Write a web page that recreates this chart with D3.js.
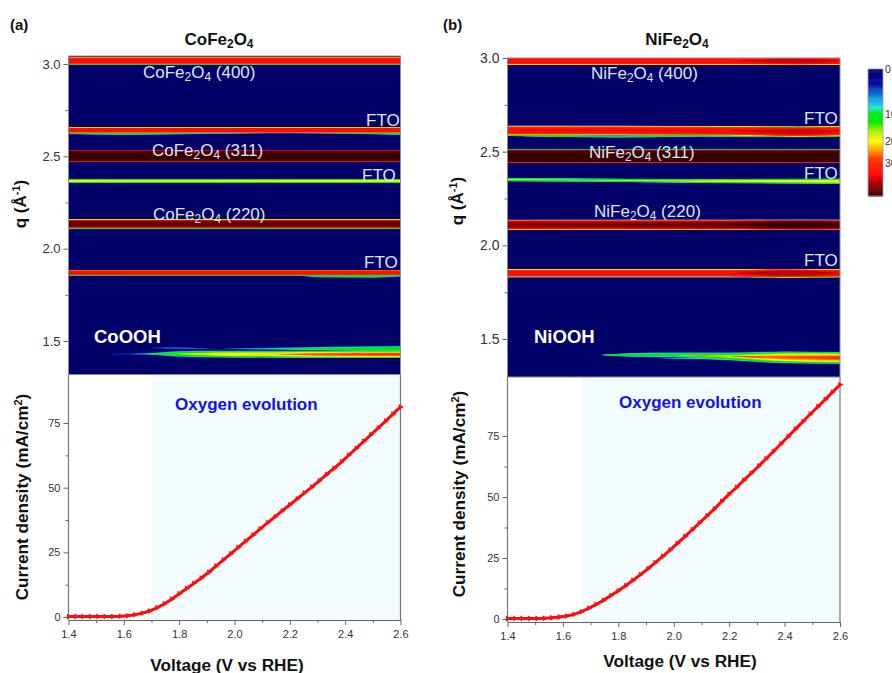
<!DOCTYPE html>
<html>
<head>
<meta charset="utf-8">
<script src="https://cdn.jsdelivr.net/npm/d3@7"></script>
<style>
  html, body { margin: 0; background: #fff; overflow: hidden; }
  svg { display: block; font-family: "Liberation Sans", Arial, sans-serif; }
  .axis path, .axis line { stroke: #666; }
  .axis text { fill: #333; font-size: 11px; font-family: "Liberation Sans", Arial, sans-serif; }
  .bold { font-weight: bold; fill: #111; }
  .peak { fill: #dfe6f5; }
</style>
</head>
<body>
<svg id="chart" width="892" height="673"></svg>
<script>
// Data

// swept voltage, same for both cells
let voltage = [1.400,1.427,1.453,1.480,1.507,1.533,1.560,1.587,1.613,1.640,1.667,1.693,1.720,1.747,1.773,1.800,
  1.827,1.853,1.880,1.907,1.933,1.960,1.987,2.013,2.040,2.067,2.093,2.120,2.147,2.173,2.200,2.227,2.253,2.280,
  2.307,2.333,2.360,2.387,2.413,2.440,2.467,2.493,2.520,2.547,2.573,2.600]
let currentCo = [0.2,0.2,0.2,0.2,0.2,0.2,0.2,0.3,0.5,0.9,1.5,2.3,3.6,5.1,6.9,9.0,11.0,13.0,15.1,17.3,19.7,22.1,
  24.5,26.9,29.3,31.7,34.1,36.5,38.8,41.1,43.4,45.7,48.0,50.3,52.7,55.1,57.5,60.0,62.6,65.2,67.9,70.5,73.1,75.8,78.5,81.2]
let currentNi = [0.2,0.2,0.2,0.2,0.2,0.3,0.5,0.8,1.2,1.9,3.0,4.4,6.0,7.7,9.6,11.6,13.7,15.9,18.2,20.6,23.1,25.7,
  28.3,31.0,33.8,36.6,39.4,42.3,45.2,48.2,51.2,54.0,56.9,59.8,62.7,65.7,68.7,71.8,74.8,77.9,81.0,84.0,87.0,90.0,93.0,96.0]

// heat map streaks, each row: voltage, q, half width in q, peak counts
let co400 = [[1.4,3.018,0.021,36],[2.6,3.018,0.021,36]]
let co2p64 = [[1.4,2.642,0.016,36],[2.6,2.642,0.016,36]]
let co2p64tail = [[1.4,2.626,0.008,11],[1.6,2.622,0.008,12],[1.9,2.625,0.007,9],[2.2,2.628,0.006,8],[2.6,2.622,0.008,12]]
let co311 = [[1.4,2.502,0.033,70],[2.6,2.502,0.033,70]]
let co2p37 = [[1.4,2.367,0.012,21],[1.7,2.366,0.012,20],[2.6,2.366,0.012,21]]
let co220 = [[1.4,2.134,0.025,45],[2.6,2.134,0.025,45]]
let co220tail = [[1.4,2.113,0.005,12],[1.7,2.115,0.004,8],[2.6,2.116,0.004,10]]
let co1p87 = [[1.4,1.870,0.015,35],[2.6,1.870,0.015,35]]
let co1p87tail = [[1.4,1.858,0.005,10],[1.8,1.860,0.004,9],[2.2,1.860,0.004,8],[2.3,1.854,0.012,13],[2.5,1.852,0.012,13],[2.6,1.856,0.010,11]]
let coOohLow = [[1.56,1.429,0.002,6],[1.68,1.430,0.006,8],[1.8,1.430,0.020,15],[1.95,1.429,0.022,21],[2.15,1.428,0.022,23],[2.3,1.428,0.022,29],[2.6,1.428,0.022,32]]
let coOohHigh = [[1.7,1.462,0.004,5],[1.8,1.462,0.007,7],[1.95,1.458,0.004,4],[2.1,1.458,0.008,8],[2.25,1.458,0.012,11],[2.4,1.458,0.016,13],[2.6,1.458,0.020,14]]

let ni400 = [[1.4,2.984,0.022,35],[2.2,2.984,0.022,35],[2.45,2.984,0.022,39],[2.6,2.984,0.022,36]]
let ni2p61 = [[1.4,2.613,0.026,36],[2.2,2.611,0.026,36],[2.45,2.607,0.028,39],[2.6,2.610,0.028,36]]
let ni2p61tail = [[1.4,2.589,0.007,14],[1.8,2.581,0.007,13],[2.1,2.585,0.007,11],[2.4,2.582,0.007,12],[2.6,2.584,0.007,14]]
let ni311 = [[1.4,2.475,0.036,70],[2.6,2.475,0.036,70]]
let ni2p35 = [[1.4,2.351,0.011,18],[1.7,2.348,0.011,16],[2.0,2.344,0.012,17],[2.6,2.342,0.017,22]]
let ni220 = [[1.4,2.109,0.028,42],[2.2,2.109,0.028,44],[2.45,2.109,0.028,52],[2.6,2.109,0.028,46]]
let ni1p85 = [[1.4,1.851,0.022,36],[2.2,1.851,0.022,36],[2.4,1.851,0.024,40],[2.6,1.851,0.022,36]]
let niOohLow = [[1.74,1.415,0.002,6],[1.85,1.415,0.014,13],[2.0,1.415,0.018,13],[2.2,1.407,0.026,18],[2.4,1.402,0.036,28],[2.6,1.399,0.036,31]]
let niOohTail = [[1.95,1.396,0.002,6],[2.1,1.396,0.006,9],[2.3,1.390,0.008,12],[2.6,1.380,0.008,12]]

let coBands = [co400, co2p64, co2p64tail, co311, co2p37, co220, co220tail, co1p87, co1p87tail, coOohLow, coOohHigh]
let niBands = [ni400, ni2p61, ni2p61tail, ni311, ni2p35, ni220, ni1p85, niOohLow, niOohTail]

// colour bar
let rampValues = [0,3,5,7,8.5,10,13,16,20,24,28,36,40,46]
let rampColors = ['#020268','#0206a0','#0a5cc8','#18b0e8','#20e8d0','#00f000','#00ea00','#a8f000','#ffff00','#ffa000','#ff3800','#ff0000','#a00000','#380000']
let barTicks = [0,10,20,30]

let voltageTicks = [1.4,1.6,1.8,2.0,2.2,2.4,2.6]
let voltageMinor = [1.5,1.7,1.9,2.1,2.3,2.5]
let qTicks = [3.0,2.5,2.0,1.5]
let qMinor = [2.75,2.25,1.75]
let currentTicks = [0,25,50,75]
let currentMinor = [12.5,37.5,62.5]

// Helpers
let svg = d3.select('#chart')
let heatColor = d3.scaleLinear().domain(rampValues).range(rampColors).clamp(true)

svg.append('defs').append('filter').attr('id', 'soft')
  .attr('x', 0).attr('y', 0).attr('width', 1).attr('height', 1)
  .append('feGaussianBlur').attr('stdDeviation', 0.5)

// half width of a streak at a given count level, saturated streaks are flat topped
let widthAt = (row, level) => {
  if (row[3] <= level) return 0
  return row[2] * Math.pow(1 - level / row[3], row[3] >= 33 ? 0.22 : 0.7)
}

let axisStyle = (g, size) => {
  g.attr('class', 'axis')
  g.selectAll('line').attr('stroke-width', 1)
  g.selectAll('path').attr('stroke-width', 1.2)
  if (size) g.selectAll('text').style('font-size', size + 'px')
}

// minor ticks carry no labels
let minorAxis = g => {
  axisStyle(g)
  g.selectAll('text').remove()
  g.select('path').remove()
}

let addText = (txt, x, y, cls, size, anchor) => {
  return svg.append('text').attr('x', x).attr('y', y).attr('class', cls)
    .attr('font-size', size).attr('text-anchor', anchor || 'start').text(txt)
}

// chemical formula with lowered digits
let addFormula = (parts, x, y, cls, size, anchor) => {
  let t = addText(null, x, y, cls, size, anchor)
  let shift = 0
  parts.forEach(p => {
    let isSub = /^\d$/.test(p)
    let target = isSub ? size * 0.18 : 0
    t.append('tspan').attr('font-size', isSub ? size * 0.7 : size)
      .attr('dy', target - shift).text(p)
    shift = target
  })
  return t
}

let drawPanel = p => {
  let x = d3.scaleLinear().domain([1.4, 2.6]).range([p.left, p.right])
  let yQ = d3.scaleLinear().domain([3.0, 1.5]).range([p.q3, p.q15])
  let yJ = d3.scaleLinear().domain([0, 75]).range([p.j0, p.j75])

  // heat map
  let clipId = 'clip' + p.name
  svg.append('clipPath').attr('id', clipId).append('rect')
    .attr('x', p.left).attr('y', p.heatTop).attr('width', p.right - p.left).attr('height', p.heatBottom - p.heatTop)
  let heat = svg.append('g').attr('clip-path', `url(#${clipId})`).append('g').attr('filter', 'url(#soft)')
  heat.append('rect').attr('x', p.left - 5).attr('y', p.heatTop - 5)
    .attr('width', p.right - p.left + 10).attr('height', p.heatBottom - p.heatTop + 10)
    .attr('fill', heatColor(0))

  d3.range(1, 48).forEach(level => {
    p.bands.forEach(band => {
      if (d3.max(band, r => r[3]) <= level) return
      let area = d3.area()
        .x(r => x(r[0]))
        .y0(r => yQ(r[1] - widthAt(r, level)))
        .y1(r => yQ(r[1] + widthAt(r, level)))
        .curve(d3.curveMonotoneX)
      heat.append('path').attr('d', area(band)).attr('fill', heatColor(level))
    })
  })

  svg.append('g').attr('transform', `translate(${p.left},0)`)
    .call(d3.axisLeft(yQ).tickValues(qTicks).tickFormat(d3.format('.1f')).tickSize(5).tickPadding(3))
    .call(g => axisStyle(g, p.qFont))
    .call(g => g.select('path').remove())
  svg.append('g').attr('transform', `translate(${p.left},0)`)
    .call(d3.axisLeft(yQ).tickValues(qMinor).tickSize(3))
    .call(minorAxis)
  svg.append('rect').attr('x', p.left).attr('y', p.heatTop).attr('width', p.right - p.left)
    .attr('height', p.heatBottom - p.heatTop).attr('fill', 'none').attr('stroke', '#8a8a9a').attr('stroke-width', 1)

  // lower plot
  svg.append('rect').attr('x', x(p.onset)).attr('y', p.jTop)
    .attr('width', p.right - x(p.onset)).attr('height', p.jBottom - p.jTop).attr('fill', '#f2fbfe')

  svg.append('g').attr('transform', `translate(0,${p.jBottom})`)
    .call(d3.axisBottom(x).tickValues(voltageTicks).tickFormat(d3.format('.1f')).tickSize(5).tickPadding(5).tickSizeOuter(0))
    .call(g => axisStyle(g))
  svg.append('g').attr('transform', `translate(0,${p.jBottom})`)
    .call(d3.axisBottom(x).tickValues(voltageMinor).tickSize(3).tickSizeOuter(0))
    .call(minorAxis)
  svg.append('g').attr('transform', `translate(${p.left},0)`)
    .call(d3.axisLeft(yJ).tickValues(currentTicks).tickSize(5).tickPadding(3))
    .call(g => axisStyle(g))
    .call(g => g.select('path').remove())
  svg.append('g').attr('transform', `translate(${p.left},0)`)
    .call(d3.axisLeft(yJ).tickValues(currentMinor).tickSize(3))
    .call(minorAxis)
  svg.append('path').attr('fill', 'none').attr('stroke', '#777').attr('stroke-width', 1.2)
    .attr('d', `M${p.left},${p.jBottom}V${p.heatBottom}M${p.right},${p.jBottom}V${p.heatBottom}`)

  // J-V curve with right pointing markers
  let pts = voltage.map((v, i) => [v, p.current[i]])
  let line = d3.line().x(d => x(d[0])).y(d => yJ(d[1]))
  svg.append('path').attr('d', line(pts)).attr('fill', 'none').attr('stroke', '#ff0a0a').attr('stroke-width', 3)
  let tri = d3.symbol().type(d3.symbolTriangle).size(15)
  svg.append('g').selectAll('path').data(pts).join('path')
    .attr('d', tri())
    .attr('transform', d => `translate(${x(d[0])},${yJ(d[1])}) rotate(90)`)
    .attr('fill', '#ff1010')

  // labels
  addText(p.tag, p.tagX, 30, 'bold', 15)
  addFormula(p.title, p.titleX, 45, 'bold', 17, 'middle')
  p.peaks.forEach(d => addFormula(d.parts, d.x, d.y, 'peak', 17))
  p.fto.forEach(d => addText('FTO', d[0], d[1], 'peak', 17))
  addText(p.oohName, p.oohX, 343, 'bold', 18.5).style('fill', '#fff')
  addText('Oxygen evolution', p.oxyX, p.oxyY, 'bold', 17).style('fill', '#1010f0')
  addText('Voltage (V vs RHE)', p.voltX, p.voltY, 'bold', 17.2, 'middle')

  let qLabel = addText(null, 0, 0, 'bold', 17, 'middle')
    .attr('transform', `translate(${p.qLabelX},${p.qLabelY}) rotate(-90)`)
  qLabel.append('tspan').text('q (\u00c5')
  qLabel.append('tspan').attr('font-size', 11).attr('dy', -6).text('-1')
  qLabel.append('tspan').attr('dy', 6).text(')')

  let jLabel = addText(null, 0, 0, 'bold', 17.2, 'middle')
    .attr('transform', `translate(${p.jLabelX},${p.jLabelY}) rotate(-90)`)
  jLabel.append('tspan').text('Current density (mA/cm')
  jLabel.append('tspan').attr('font-size', 11).attr('dy', -6).text('2')
  jLabel.append('tspan').attr('dy', 6).text(')')
}

// Main
drawPanel({
  name: 'co', tag: '(a)', tagX: 10, title: ['CoFe', '2', 'O', '4'], titleX: 219,
  bands: coBands, current: currentCo, onset: 1.7,
  left: 68.5, right: 400.5, heatTop: 56, heatBottom: 374.5,
  q3: 64, q15: 341, qFont: 13,
  jTop: 375, jBottom: 620, j0: 617, j75: 423,
  peaks: [
    { parts: ['CoFe', '2', 'O', '4', ' (400)'], x: 143, y: 78 },
    { parts: ['CoFe', '2', 'O', '4', ' (311)'], x: 152, y: 156 },
    { parts: ['CoFe', '2', 'O', '4', ' (220)'], x: 153, y: 220 }
  ],
  fto: [[366, 126], [362, 181], [364, 268]],
  oohName: 'CoOOH', oohX: 94, oxyX: 175, oxyY: 410,
  voltX: 227, voltY: 671, qLabelX: 26, qLabelY: 204, jLabelX: 28, jLabelY: 497
})

drawPanel({
  name: 'ni', tag: '(b)', tagX: 443, title: ['NiFe', '2', 'O', '4'], titleX: 677,
  bands: niBands, current: currentNi, onset: 1.67,
  left: 507.5, right: 840, heatTop: 58, heatBottom: 377,
  q3: 58, q15: 339, qFont: 14,
  jTop: 378, jBottom: 622, j0: 619, j75: 436,
  peaks: [
    { parts: ['NiFe', '2', 'O', '4', ' (400)'], x: 591, y: 79 },
    { parts: ['NiFe', '2', 'O', '4', ' (311)'], x: 589, y: 158 },
    { parts: ['NiFe', '2', 'O', '4', ' (220)'], x: 594, y: 217 }
  ],
  fto: [[804, 124], [804, 179], [804, 266]],
  oohName: 'NiOOH', oohX: 534, oxyX: 619, oxyY: 408,
  voltX: 680, voltY: 667, qLabelX: 463, qLabelY: 201, jLabelX: 465, jLabelY: 494
})

// colour bar
let barY = d3.scaleLinear().domain([0, 10, 20, 30, 46]).range([69, 114, 141, 163, 196])
svg.append('g').selectAll('rect').data(d3.range(0, 46, 0.25)).join('rect')
  .attr('x', 868).attr('width', 15)
  .attr('y', d => barY(d)).attr('height', d => barY(d + 0.25) - barY(d) + 0.5)
  .attr('fill', d => heatColor(d))
svg.append('rect').attr('x', 868).attr('y', 69).attr('width', 15).attr('height', 127)
  .attr('fill', 'none').attr('stroke', '#9a9ac8').attr('stroke-width', 0.8)
svg.append('g').selectAll('text').data(barTicks).join('text')
  .attr('x', 885).attr('y', d => barY(d) + 4)
  .attr('font-size', 10.5).attr('fill', '#333')
  .text(d => d)
</script>
</body>
</html>
